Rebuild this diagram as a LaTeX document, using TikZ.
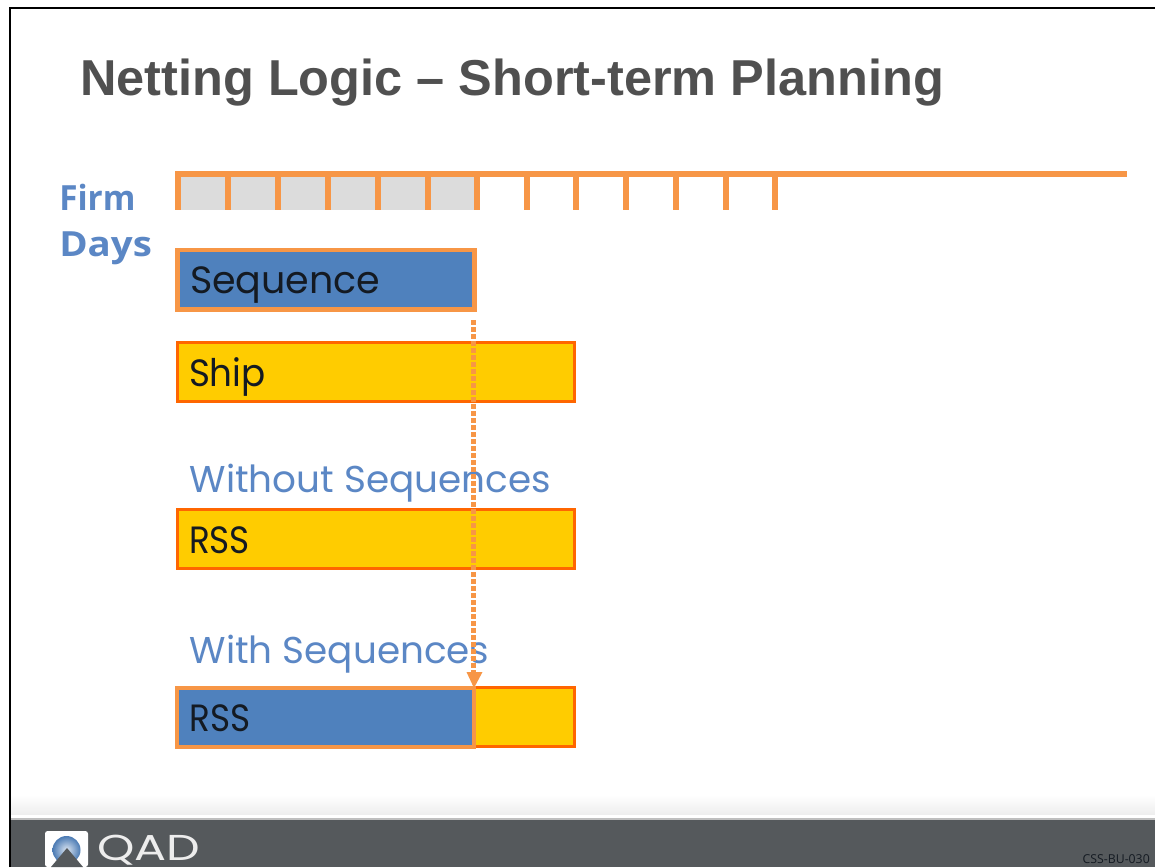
\documentclass[tikz,border=0pt]{standalone}
\usepackage{fontspec}
\setmainfont{Poppins}
\newfontfamily\titlefont{Liberation Sans}
\newfontfamily\firmfont{Open Sans}
\newfontfamily\tinyfont{Open Sans}
\usetikzlibrary{arrows.meta,calc}
\definecolor{orgA}{HTML}{F79646}
\definecolor{orgB}{HTML}{FF6600}
\definecolor{yel}{HTML}{FFCC00}
\definecolor{blu}{HTML}{4F81BD}
\definecolor{gry}{HTML}{DCDCDC}
\definecolor{bar}{HTML}{55595C}
\definecolor{ttl}{HTML}{505050}
\definecolor{lbl}{HTML}{5B87C5}
\definecolor{ink}{HTML}{141A22}
\tikzset{
  x=0.75pt,y=-0.75pt,
  barbox/.style={draw,outer sep=0pt,inner sep=0pt,anchor=north west,
    text height=21pt,text depth=0pt,
    font=\fontsize{28.5pt}{30pt}\selectfont,text=ink,align=left},
  seqbox/.style={barbox,draw=orgA,fill=blu,line width=3.6pt,minimum height=44.6pt},
  yelbox/.style={barbox,draw=orgB,line width=2.4pt,fill=yel,minimum height=44.25pt},
  tick/.style={draw=orgA,line width=4.5pt},
  sublabel/.style={anchor=base west,inner sep=0pt,text=lbl,font=\fontsize{28pt}{30pt}\selectfont},
  firm/.style={anchor=base west,inner sep=0pt,text=lbl,font=\firmfont\bfseries\fontsize{26pt}{30pt}\selectfont},
}
\begin{document}
\begin{tikzpicture}
\useasboundingbox (0,0) rectangle (1155,867);
\fill[white] (0,0) rectangle (1155,867);
% frame
\draw[black,line width=1.9pt] (10,867) -- (10,8) -- (1155,8);
% footer
\shade[top color=white,bottom color=black!7] (11,795) rectangle (1155,815);
\fill[white] (11,815) rectangle (1155,818);
\fill[black!25] (11,818) rectangle (1155,820);
\fill[bar] (11,820) rectangle (1155,867);
% title
\node[anchor=base west,inner sep=0pt,text=ttl,font=\titlefont\bfseries\fontsize{37.85pt}{42pt}\selectfont] (title) at (80,95) {Netting Logic – Short-term Planning};
% timeline
\fill[gry] (178,174) rectangle (478,210);
\draw[tick] (175,174) -- (1127,174);
\foreach \x/\n in {178/a,228/b,278/c,328/d,378/e,428/f,477/g,527/h,576/i,626/j,676/k,726/l,775/m}
  \draw[tick] (\x,171) -- (\x,210);
\node[firm] (firmA) at (59,210) {\scalebox{0.96}[1]{Firm}};
\node[firm] (firmB) at (59,256) {\scalebox{1.11}[1]{Days}};
% bars
\node[seqbox,minimum width=222.75pt,text width=204pt] (seq) at (177.5,250) {Sequence};
\node[yelbox,minimum width=297.75pt,text width=279pt] (ship) at (177.5,342.5) {\kern-0.75pt\scalebox{0.94}[1]{Ship}};
\node[sublabel] (wo) at (189.5,492) {Without Sequences};
\node[yelbox,minimum width=297.75pt,text width=279pt] (rssa) at (177.5,509.5) {\kern-0.75pt\scalebox{0.9}[1]{RSS}};
\node[sublabel] (wi) at (189.5,663) {With Sequences};
\node[yelbox,minimum width=297.75pt,text width=279pt] (rssy) at (177.5,687.5) {};
\node[seqbox,line width=3pt,minimum width=222.75pt,minimum height=44.25pt,text width=204pt] (rssb) at (177,687.5) {\scalebox{0.9}[1]{RSS}};
% dotted arrow
\draw[orgA,line width=4pt,dash pattern=on 3.75pt off 1.5pt] (473.5,320) -- (473.5,676);
\fill[orgA] (466.5,672) -- (482.5,672) -- (474,688) -- cycle;
% logo
\fill[white,rounded corners=2pt] (45,831) -- (88,831) -- (88,867) -- (45,867) -- cycle;
\shade[inner color=blu!20!white,outer color=blu!95!black,shading=radial] (66.5,850) circle (14);
\fill[bar] (67,848) -- (83,867) -- (51,867) -- cycle;
\node[anchor=base west,inner sep=0pt,text=white!93!black,font=\fontsize{27pt}{30pt}\selectfont] (qad) at (97,860) {\scalebox{1.32}[1]{QAD}};
\node[anchor=base east,inner sep=0pt,text=ink,font=\tinyfont\fontsize{9.2pt}{10pt}\selectfont] (code) at (1150,863) {CSS-BU-030};
\end{tikzpicture}
\end{document}
